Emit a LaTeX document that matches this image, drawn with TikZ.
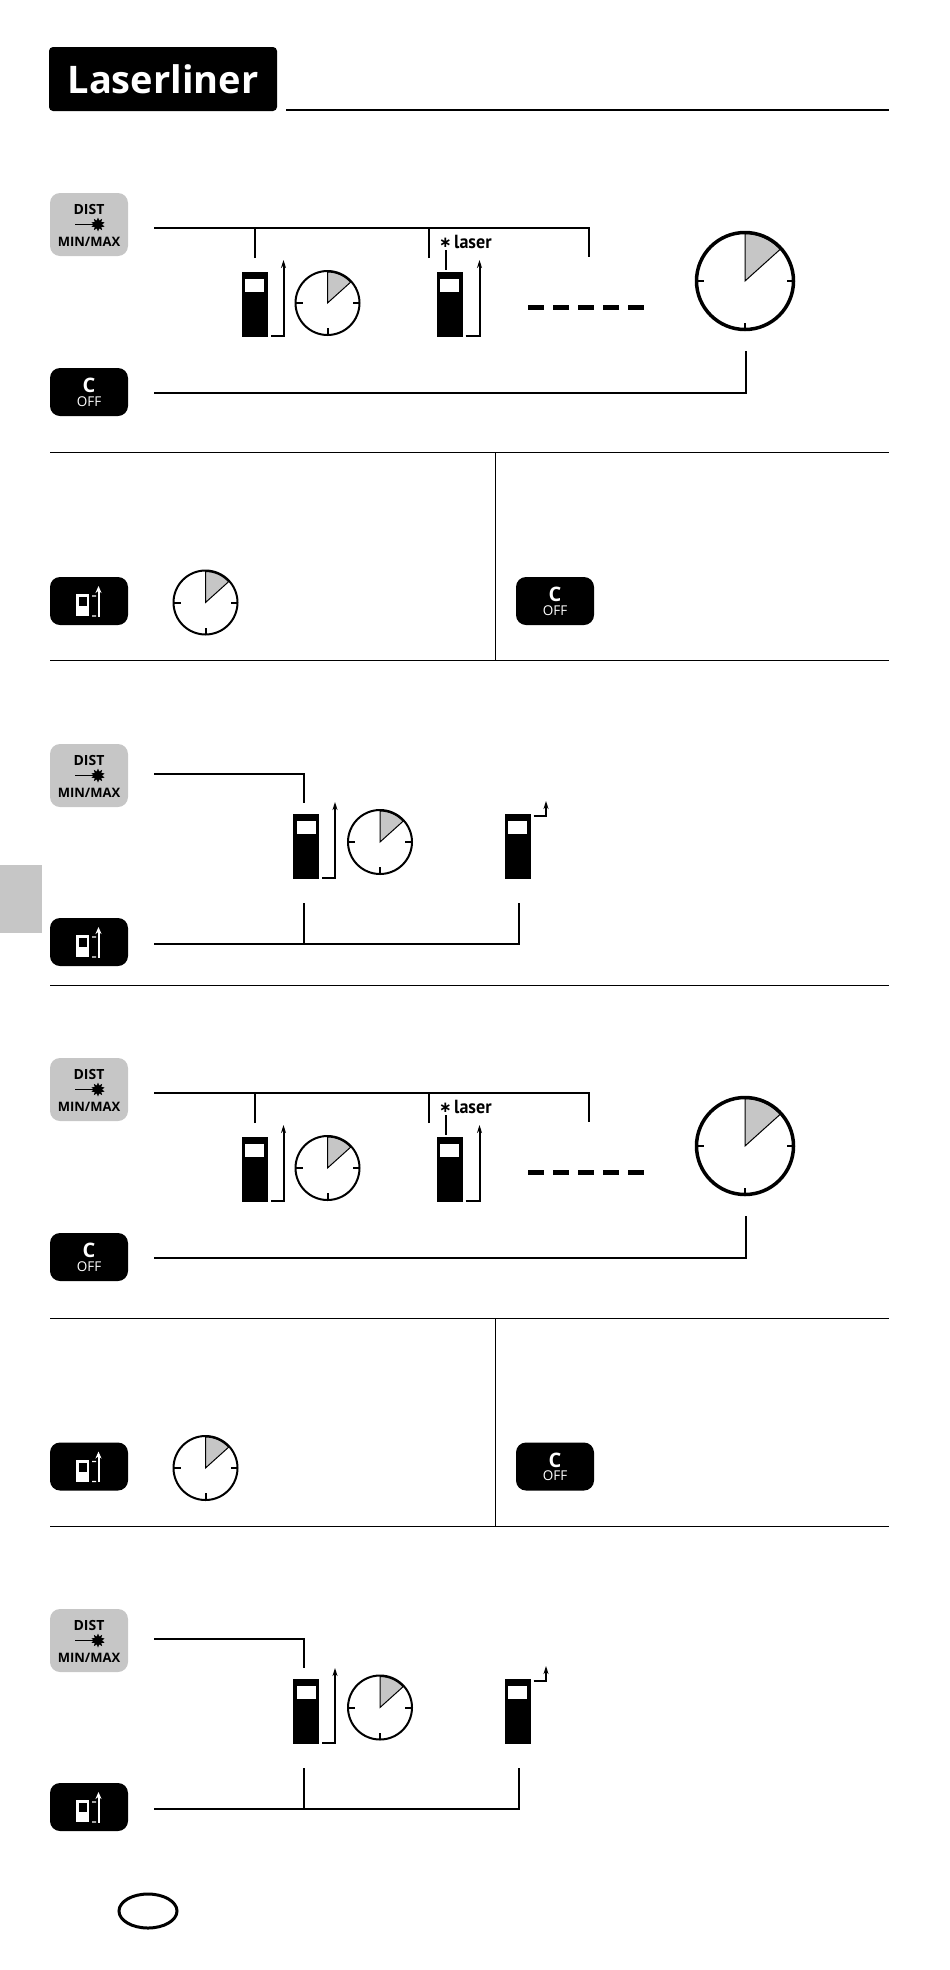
\documentclass[tikz,border=0pt]{standalone}
\usepackage{fontspec}
\setmainfont{Open Sans}
\newfontfamily\narrowfont{PT Sans}
\newfontfamily\signfont{DejaVu Sans}
\usetikzlibrary{arrows.meta,shapes.geometric,positioning}
\definecolor{keygray}{HTML}{C6C6C6}
\tikzset{
  wire/.style={line width=2pt},
  thinrule/.style={line width=1pt},
  headrule/.style={line width=2pt},
  measure/.style={line width=2pt, -{Stealth[length=8pt,width=5pt]}},
  dashrow/.style={line width=5pt, dash pattern=on 15.5pt off 9.5pt},
  device/.style={rectangle, fill=black, inner sep=0pt, minimum width=26pt, minimum height=65pt},
  devscreen/.style={rectangle, fill=white, inner sep=0pt, minimum width=19pt, minimum height=13pt},
  keybox/.style={rectangle, rounded corners=10pt, inner sep=0pt, minimum width=78pt},
  sidetab/.style={rectangle, fill=keygray, inner sep=0pt, minimum width=42pt, minimum height=68pt},
  astmark/.style={inner sep=0pt, font=\signfont\bfseries\fontsize{15}{15}\selectfont},
  lasermark/.style={inner sep=0pt, anchor=west, font=\narrowfont\bfseries\fontsize{19}{19}\selectfont},
  distkey/.pic={
    \node [keybox, fill=keygray, minimum height=63pt] (-box) at (0,0){};
    \node [anchor=base, inner sep=0pt] (-top) at (0,-10.2){\fontsize{14}{14}\selectfont\bfseries DIST};
    \node [anchor=base, inner sep=0pt] (-low) at (0,21.5){\fontsize{13}{13}\selectfont\bfseries MIN/MAX};
    \node [star, star points=10, star point ratio=1.7, fill=black, inner sep=0pt, minimum size=14pt] (-spot) at (9,0){};
    \coordinate (-beam) at (-14,0);
    \draw [line width=1.1pt] (-beam) -- (-spot);
  },
  offkey/.pic={
    \node [keybox, fill=black, minimum height=48pt] (-box) at (0,0){};
    \node [anchor=base, inner sep=0pt, text=white] (-top) at (0,0.5){\fontsize{20}{20}\selectfont\bfseries C};
    \node [anchor=base, inner sep=0pt, text=white] (-low) at (0,14){\fontsize{13.5}{14}\selectfont OFF};
  },
  rangekey/.pic={
    \node [keybox, fill=black, minimum height=48pt] (-box) at (0,0){};
    \node [rectangle, fill=white, inner sep=0pt, minimum width=13pt, minimum height=22pt] (-unit) at (-6.5,4){};
    \node [rectangle, fill=black, inner sep=0pt, minimum width=8pt, minimum height=9pt] (-disp) at (-6,0.5){};
    \fill [white] (3,-5.7) rectangle (7,-4.3) (3,14.3) rectangle (7,15.7);
    \coordinate (-foot) at (9.5,15.5);
    \coordinate (-head) at (9.5,-15);
    \draw [white, line width=2pt, -{Stealth[length=7pt,width=6pt]}] (-foot) -- (-head);
  },
  dial/.pic={
    \filldraw [fill=keygray, line width=1pt] (0,0) -- (0,-#1+1) arc[start angle=90, end angle=42, radius=#1pt-1pt] -- cycle;
    \node [circle, draw, inner sep=0pt, minimum size=2*#1pt] (-rim) at (0,0){};
    \draw [line width=2pt] (-#1,0) -- (-#1+7,0) (#1,0) -- (#1-7,0) (0,#1) -- (0,#1-7);
  }
}

\begin{document}
\begin{tikzpicture}[x=1pt,y=-1pt]
\useasboundingbox (0,0) rectangle (950,1970);

% header
\node [rectangle, fill=black, rounded corners=4pt, inner sep=0pt, minimum width=228pt, minimum height=64pt] (brand) at (163,79){};
\node [text=white, inner sep=0pt, font=\fontsize{38}{38}\selectfont\bfseries] (brandname) at (163,79){Laserliner};
\coordinate (h1) at (286,110);
\coordinate (h2) at (889,110);
\draw [headrule] (h1) -- (h2);

% first row
\pic (dist1) at (89,224.5) {distkey};
\pic (off1) at (89,392) {offkey};
\node [device] (dv1) at (254.5,304.5){};
\node [devscreen] (sc1) [below=7pt of dv1.north]{};
\node [device] (dv2) at (449.5,304.5){};
\node [devscreen] (sc2) [below=7pt of dv2.north]{};
\pic (ck1) [line width=2pt] at (327.5,303) {dial=32};
\pic (ck2) [line width=3.5pt] at (745,281) {dial=48.5};
\node [astmark] (ast1) at (445.5,243){∗};
\node [lasermark] (las1) at (454,242){\scalebox{0.95}[1]{laser}};
\coordinate (a1) at (154,228);
\coordinate (a2) at (588.5,228);
\coordinate (a3) at (588.5,257);
\coordinate (a4) at (255,258);
\coordinate (a5) at (429,258);
\coordinate (a6) at (445.5,250);
\coordinate (a7) at (445.5,270);
\coordinate (a8) at (154,393);
\coordinate (a9) at (745.5,393);
\coordinate (a10) at (745.5,351);
\coordinate (m1) at (271,336);
\coordinate (m2) at (283.5,260);
\coordinate (m3) at (465.5,336);
\coordinate (m4) at (479.5,260);
\coordinate (p1) at (528,307);
\coordinate (p2) at (647,307);
\draw [wire] (a1) -- (a2) -- (a3);
\draw [wire] (a4) |- (a1);
\draw [wire] (a5) |- (a1);
\draw [wire] (a6) -- (a7);
\draw [wire] (a8) -- (a9) -- (a10);
\draw [measure] (m1) -| (m2);
\draw [measure] (m3) -| (m4);
\draw [dashrow] (p1) -- (p2);

% second row
\pic (rng1) at (89,601) {rangekey};
\pic (off2) at (555,601) {offkey};
\pic (ck3) [line width=2pt] at (205.5,602.5) {dial=32};
\coordinate (b1) at (50,452.5);
\coordinate (b2) at (889,452.5);
\coordinate (b3) at (50,660.5);
\coordinate (b4) at (889,660.5);
\coordinate (b5) at (495.5,452.5);
\coordinate (b6) at (495.5,660.5);
\draw [thinrule] (b1) -- (b2);
\draw [thinrule] (b3) -- (b4);
\draw [thinrule] (b5) -- (b6);

% third row
\node [sidetab] (tab) at (21,898.5){};
\pic (dist2) at (89,775.5) {distkey};
\pic (rng2) at (89,942) {rangekey};
\node [device] (dv3) at (306,846.5){};
\node [devscreen] (sc3) [below=7pt of dv3.north]{};
\node [device] (dv4) at (517.5,846.5){};
\node [devscreen] (sc4) [below=7pt of dv4.north]{};
\pic (ck4) [line width=2pt] at (380,842) {dial=32};
\coordinate (c1) at (154,774);
\coordinate (c2) at (304,803);
\coordinate (c3) at (154,944);
\coordinate (c4) at (518.5,944);
\coordinate (c5) at (518.5,903);
\coordinate (c6) at (304,903);
\coordinate (m5) at (322,878);
\coordinate (m6) at (335,802);
\coordinate (m7) at (533.5,816);
\coordinate (m8) at (546,801);
\coordinate (c7) at (50,985.5);
\coordinate (c8) at (889,985.5);
\draw [wire] (c1) -| (c2);
\draw [wire] (c3) -- (c4) -- (c5);
\draw [wire] (c6) |- (c3);
\draw [measure] (m5) -| (m6);
\draw [measure] (m7) -| (m8);
\draw [thinrule] (c7) -- (c8);

% fourth row
\pic (dist3) at (89,1089.5) {distkey};
\pic (off3) at (89,1257) {offkey};
\node [device] (dv5) at (254.5,1169.5){};
\node [devscreen] (sc5) [below=7pt of dv5.north]{};
\node [device] (dv6) at (449.5,1169.5){};
\node [devscreen] (sc6) [below=7pt of dv6.north]{};
\pic (ck5) [line width=2pt] at (327.5,1168) {dial=32};
\pic (ck6) [line width=3.5pt] at (745,1146) {dial=48.5};
\node [astmark] (ast2) at (445.5,1108){∗};
\node [lasermark] (las2) at (454,1107){\scalebox{0.95}[1]{laser}};
\coordinate (d1) at (154,1093);
\coordinate (d2) at (588.5,1093);
\coordinate (d3) at (588.5,1122);
\coordinate (d4) at (255,1123);
\coordinate (d5) at (429,1123);
\coordinate (d6) at (445.5,1115);
\coordinate (d7) at (445.5,1135);
\coordinate (d8) at (154,1258);
\coordinate (d9) at (745.5,1258);
\coordinate (d10) at (745.5,1216);
\coordinate (m9) at (271,1201);
\coordinate (m10) at (283.5,1125);
\coordinate (m11) at (465.5,1201);
\coordinate (m12) at (479.5,1125);
\coordinate (p3) at (528,1172);
\coordinate (p4) at (647,1172);
\draw [wire] (d1) -- (d2) -- (d3);
\draw [wire] (d4) |- (d1);
\draw [wire] (d5) |- (d1);
\draw [wire] (d6) -- (d7);
\draw [wire] (d8) -- (d9) -- (d10);
\draw [measure] (m9) -| (m10);
\draw [measure] (m11) -| (m12);
\draw [dashrow] (p3) -- (p4);

% fifth row
\pic (rng3) at (89,1466.5) {rangekey};
\pic (off4) at (555,1466.5) {offkey};
\pic (ck7) [line width=2pt] at (205.5,1468) {dial=32};
\coordinate (e1) at (50,1318.5);
\coordinate (e2) at (889,1318.5);
\coordinate (e3) at (50,1526.5);
\coordinate (e4) at (889,1526.5);
\coordinate (e5) at (495.5,1318.5);
\coordinate (e6) at (495.5,1526.5);
\draw [thinrule] (e1) -- (e2);
\draw [thinrule] (e3) -- (e4);
\draw [thinrule] (e5) -- (e6);

% sixth row
\pic (dist4) at (89,1640.5) {distkey};
\pic (rng4) at (89,1807) {rangekey};
\node [device] (dv7) at (306,1711.5){};
\node [devscreen] (sc7) [below=7pt of dv7.north]{};
\node [device] (dv8) at (517.5,1711.5){};
\node [devscreen] (sc8) [below=7pt of dv8.north]{};
\pic (ck8) [line width=2pt] at (380,1707.5) {dial=32};
\coordinate (f1) at (154,1639);
\coordinate (f2) at (304,1668);
\coordinate (f3) at (154,1809);
\coordinate (f4) at (518.5,1809);
\coordinate (f5) at (518.5,1768);
\coordinate (f6) at (304,1768);
\coordinate (m13) at (322,1743);
\coordinate (m14) at (335,1668);
\coordinate (m15) at (533.5,1681);
\coordinate (m16) at (546,1666);
\draw [wire] (f1) -| (f2);
\draw [wire] (f3) -- (f4) -- (f5);
\draw [wire] (f6) |- (f3);
\draw [measure] (m13) -| (m14);
\draw [measure] (m15) -| (m16);

\node [ellipse, draw, line width=3pt, inner sep=0pt, minimum width=58pt, minimum height=34pt] (lang) at (148,1911){};
\end{tikzpicture}
\end{document}
